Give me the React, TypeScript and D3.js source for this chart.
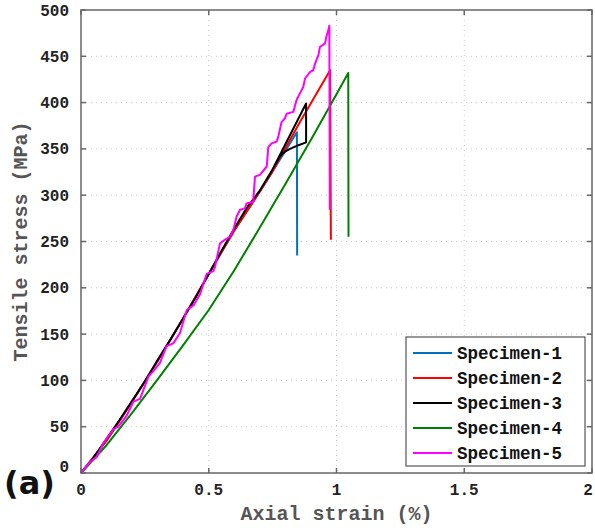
import React from "react";
import * as d3 from "d3";

const W = 595, H = 531;
const M = { left: 81, right: 592, top: 10, bottom: 473 };

const xTicks = [0, 0.5, 1, 1.5, 2];
const xTickLabels = ["0", "0.5", "1", "1.5", "2"];
const yTicks = [0, 50, 100, 150, 200, 250, 300, 350, 400, 450, 500];

const seriesNames = ["Specimen-1", "Specimen-2", "Specimen-3", "Specimen-4", "Specimen-5"];
const seriesColors = ["#0072BD", "#FF0000", "#000000", "#008000", "#FF00FF"];

// [strain %, stress MPa]
const spec1: [number, number][] = [
  [0, 0], [0.1, 35], [0.2, 77], [0.3, 121], [0.4, 167], [0.5, 215], [0.6, 262],
  [0.7, 304], [0.746, 324], [0.845, 368], [0.846, 235],
];
const spec2: [number, number][] = [
  [0, 0], [0.1, 35], [0.2, 77], [0.3, 121], [0.4, 167], [0.5, 215], [0.6, 262],
  [0.7, 304], [0.746, 324], [0.857, 379], [0.975, 435], [0.978, 252],
];
const spec3: [number, number][] = [
  [0, 0], [0.05, 17], [0.1, 37], [0.15, 57], [0.2, 78], [0.25, 99], [0.3, 122],
  [0.35, 144], [0.4, 167], [0.45, 190], [0.5, 215], [0.55, 240], [0.6, 264],
  [0.65, 287], [0.7, 305], [0.746, 326], [0.8, 355], [0.881, 399], [0.881, 357],
  [0.851, 354], [0.818, 350], [0.798, 347], [0.779, 342], [0.76, 333],
];
const spec4: [number, number][] = [
  [0, 0], [0.1, 30], [0.2, 65], [0.3, 101], [0.4, 138], [0.5, 176], [0.6, 219],
  [0.7, 265], [0.8, 312], [0.9, 360], [1.0, 409], [1.046, 432], [1.047, 255],
];
const spec5: [number, number][] = [
  [0, 0], [0.035, 12], [0.061, 17], [0.087, 32], [0.126, 47], [0.146, 50], [0.179, 62],
  [0.205, 77], [0.231, 80], [0.264, 104], [0.283, 110], [0.309, 119], [0.335, 137],
  [0.361, 140], [0.387, 151], [0.414, 176], [0.44, 181], [0.466, 193], [0.492, 215],
  [0.518, 218], [0.524, 222], [0.544, 248], [0.564, 252], [0.583, 255], [0.596, 262],
  [0.609, 277], [0.622, 284], [0.642, 286], [0.648, 291], [0.674, 293], [0.681, 320],
  [0.7, 322], [0.727, 331], [0.733, 352], [0.746, 356], [0.766, 358], [0.772, 363],
  [0.785, 379], [0.798, 383], [0.805, 388], [0.831, 390], [0.844, 403], [0.857, 410],
  [0.87, 417], [0.877, 426], [0.896, 433], [0.909, 435], [0.916, 442], [0.929, 451],
  [0.935, 460], [0.955, 464], [0.962, 473], [0.968, 478], [0.972, 483], [0.974, 284],
];
const allSeries = [spec1, spec2, spec3, spec4, spec5];

export default function App() {
  const x = d3.scaleLinear().domain([0, 2]).range([M.left, M.right]);
  const y = d3.scaleLinear().domain([0, 500]).range([M.bottom, M.top]);
  const line = d3.line<[number, number]>().x((d) => x(d[0])).y((d) => y(d[1]));
  const mono = "'Liberation Mono', 'DejaVu Sans Mono', monospace";
  const axisColor = "#666";
  const lg = { x: 406, y: 337, w: 179, h: 129 };
  return (
    <svg width={W} height={H} style={{ position: "absolute", left: 0, top: 0, background: "#fff" }}>
      <rect x={0} y={0} width={W} height={H} fill="#fff" />
      {/* grid */}
      {xTicks.slice(1, -1).map((t) => (
        <line key={"gx" + t} x1={x(t)} x2={x(t)} y1={M.top} y2={M.bottom} stroke="#c8c8c8" strokeWidth={1} strokeDasharray="1,4" />
      ))}
      {yTicks.slice(1, -1).map((t) => (
        <line key={"gy" + t} x1={M.left} x2={M.right} y1={y(t)} y2={y(t)} stroke="#c8c8c8" strokeWidth={1} strokeDasharray="1,4" />
      ))}
      {/* series */}
      {allSeries.map((s, i) => (
        <path key={i} d={line(s) || ""} fill="none" stroke={seriesColors[i]} strokeWidth={2} strokeLinejoin="round" />
      ))}
      {/* frame */}
      <rect x={M.left} y={M.top} width={M.right - M.left} height={M.bottom - M.top} fill="none" stroke={axisColor} strokeWidth={1.5} />
      {/* ticks */}
      {xTicks.map((t) => (
        <g key={"tx" + t}>
          <line x1={x(t)} x2={x(t)} y1={M.bottom} y2={M.bottom - 5} stroke={axisColor} strokeWidth={1.5} />
          <line x1={x(t)} x2={x(t)} y1={M.top} y2={M.top + 5} stroke={axisColor} strokeWidth={1.5} />
        </g>
      ))}
      {yTicks.map((t) => (
        <g key={"ty" + t}>
          <line x1={M.left} x2={M.left + 5} y1={y(t)} y2={y(t)} stroke={axisColor} strokeWidth={1.5} />
          <line x1={M.right} x2={M.right - 5} y1={y(t)} y2={y(t)} stroke={axisColor} strokeWidth={1.5} />
        </g>
      ))}
      {/* tick labels */}
      {xTicks.map((t, i) => (
        <text key={"lx" + t} x={Math.min(x(t), 588)} y={495} textAnchor="middle" fontFamily={mono} fontWeight="bold" fontSize={16} fill="#222">
          {xTickLabels[i]}
        </text>
      ))}
      {yTicks.map((t) => (
        <text key={"ly" + t} x={69} y={t === 0 ? y(t) - 1 : y(t) + 5.5} textAnchor="end" fontFamily={mono} fontWeight="bold" fontSize={16} fill="#222">
          {String(t)}
        </text>
      ))}
      {/* axis titles */}
      <text x={(M.left + M.right) / 2} y={520} textAnchor="middle" fontFamily={mono} fontWeight="bold" fontSize={20} fill="#555">
        Axial strain (%)
      </text>
      <text transform={`translate(27,${(M.top + M.bottom) / 2}) rotate(-90)`} textAnchor="middle" fontFamily={mono} fontWeight="bold" fontSize={20} fill="#555">
        Tensile stress (MPa)
      </text>
      {/* legend */}
      <rect x={lg.x} y={lg.y} width={lg.w} height={lg.h} fill="#fff" stroke="#555" strokeWidth={1.2} />
      {seriesNames.map((n, i) => (
        <g key={n}>
          <line x1={413} x2={452} y1={353 + i * 25} y2={353 + i * 25} stroke={seriesColors[i]} strokeWidth={2} />
          <text x={457} y={353 + i * 25 + 5.5} fontFamily={mono} fontWeight="bold" fontSize={17.5} fill="#111">
            {n}
          </text>
        </g>
      ))}
      {/* panel label */}
      <text x={4} y={494} fontFamily="'DejaVu Sans', sans-serif" fontWeight="bold" fontSize={32} fill="#111">
        (a)
      </text>
    </svg>
  );
}
